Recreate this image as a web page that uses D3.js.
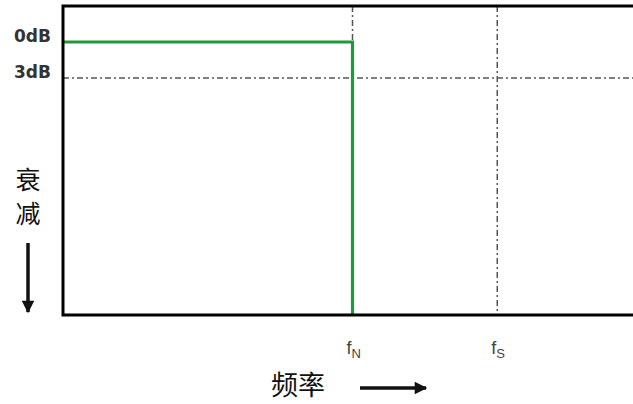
<!DOCTYPE html>
<html>
<head>
<meta charset="utf-8">
<script src="https://cdn.jsdelivr.net/npm/d3@7"></script>
<style>
  body { margin: 0; background: #fff; }
  svg { display: block; }
</style>
</head>
<body>
<div id="grafico"></div>
<script>
// Datos del filtro ideal (frecuencia normalizada a fN, atenuación en dB)
const frecuencias = [0, 1, 1];
const ganancias = [0, 0, -22.75];
const marcas_x = [1, 1.5];
const etiquetas_x = ["N", "S"];
const marcas_y = [0, -3];
const etiquetas_y = ["0dB", "3dB"];

let width = 633, height = 404;

let svg = d3.select("#grafico")
    .append("svg")
    .attr("width", width)
    .attr("height", height);

let x = d3.scaleLinear()
    .domain([0, 2])
    .range([63, 642]);

let y = d3.scaleLinear()
    .domain([3, -22.75])
    .range([6, 315]);

let x0 = x(0), yTop = y(3), yBot = y(-22.75);

// Líneas de referencia punteadas
svg.append("line")
    .attr("x1", x0).attr("x2", width)
    .attr("y1", y(-3)).attr("y2", y(-3))
    .attr("stroke", "#555").attr("stroke-width", 1.5)
    .attr("stroke-dasharray", "6,3,2,3");

svg.selectAll("line.vref")
    .data(marcas_x)
    .enter()
    .append("line")
    .attr("class", "vref")
    .attr("x1", d => x(d)).attr("x2", d => x(d))
    .attr("y1", yTop).attr("y2", yBot)
    .attr("stroke", "#555").attr("stroke-width", 1.5)
    .attr("stroke-dasharray", "6,3,2,3");

// Respuesta del filtro
let lista = frecuencias.map((f, i) => [f, ganancias[i]]);
svg.append("path")
    .datum(lista)
    .attr("fill", "none")
    .attr("stroke", "#1e9a3c")
    .attr("stroke-width", 3.2)
    .attr("d", d3.line().x(d => x(d[0])).y(d => y(d[1])));

// Marco
svg.append("path")
    .attr("d", "M" + width + "," + yTop + "H" + x0 + "V" + yBot + "H" + width)
    .attr("fill", "none")
    .attr("stroke", "#000")
    .attr("stroke-width", 3);

// Etiquetas eje Y
svg.selectAll("text.ylab")
    .data(marcas_y)
    .enter()
    .append("text")
    .attr("class", "ylab")
    .attr("x", 14)
    .attr("y", d => y(d))
    .style("font-family", "DejaVu Sans, sans-serif")
    .style("font-size", "17px")
    .style("font-weight", "bold")
    .style("fill", "#333")
    .text((d, i) => etiquetas_y[i]);

// Etiquetas eje X (f con subíndice)
let tx = svg.selectAll("text.xlab")
    .data(marcas_x)
    .enter()
    .append("text")
    .attr("class", "xlab")
    .attr("x", d => x(d) - 6)
    .attr("y", 354)
    .style("font-family", "Liberation Sans, Arial, sans-serif")
    .style("font-size", "18px")
    .style("fill", "#444");
tx.append("tspan").text("f");
tx.append("tspan")
    .attr("dy", 4)
    .style("font-size", "13px")
    .text((d, i) => etiquetas_x[i]);

// Título eje Y vertical
svg.selectAll("text.ytit")
    .data(["衰", "减"])
    .enter()
    .append("text")
    .attr("class", "ytit")
    .attr("x", 28)
    .attr("y", (d, i) => 189 + i * 34)
    .attr("text-anchor", "middle")
    .style("font-family", "Noto Sans CJK SC")
    .style("font-size", "25px")
    .style("fill", "#111")
    .text(d => d);

// Título eje X
svg.append("text")
    .attr("x", 271)
    .attr("y", 395)
    .style("font-family", "Noto Sans CJK SC")
    .style("font-size", "27px")
    .style("fill", "#111")
    .text("频率");

// Flechas
svg.append("defs").append("marker")
    .attr("id", "punta")
    .attr("viewBox", "0 0 10 10")
    .attr("refX", 9).attr("refY", 5)
    .attr("markerWidth", 5).attr("markerHeight", 3.6)
    .attr("markerUnits", "strokeWidth")
    .attr("orient", "auto")
    .append("path")
    .attr("d", "M0,0L10,5L0,10Z")
    .attr("fill", "#111");

svg.append("line")
    .attr("x1", 28).attr("x2", 28)
    .attr("y1", 243).attr("y2", 312)
    .attr("stroke", "#111").attr("stroke-width", 3.5)
    .attr("marker-end", "url(#punta)");

svg.append("line")
    .attr("x1", 360).attr("x2", 426)
    .attr("y1", 388).attr("y2", 388)
    .attr("stroke", "#111").attr("stroke-width", 3.5)
    .attr("marker-end", "url(#punta)");
</script>
</body>
</html>
